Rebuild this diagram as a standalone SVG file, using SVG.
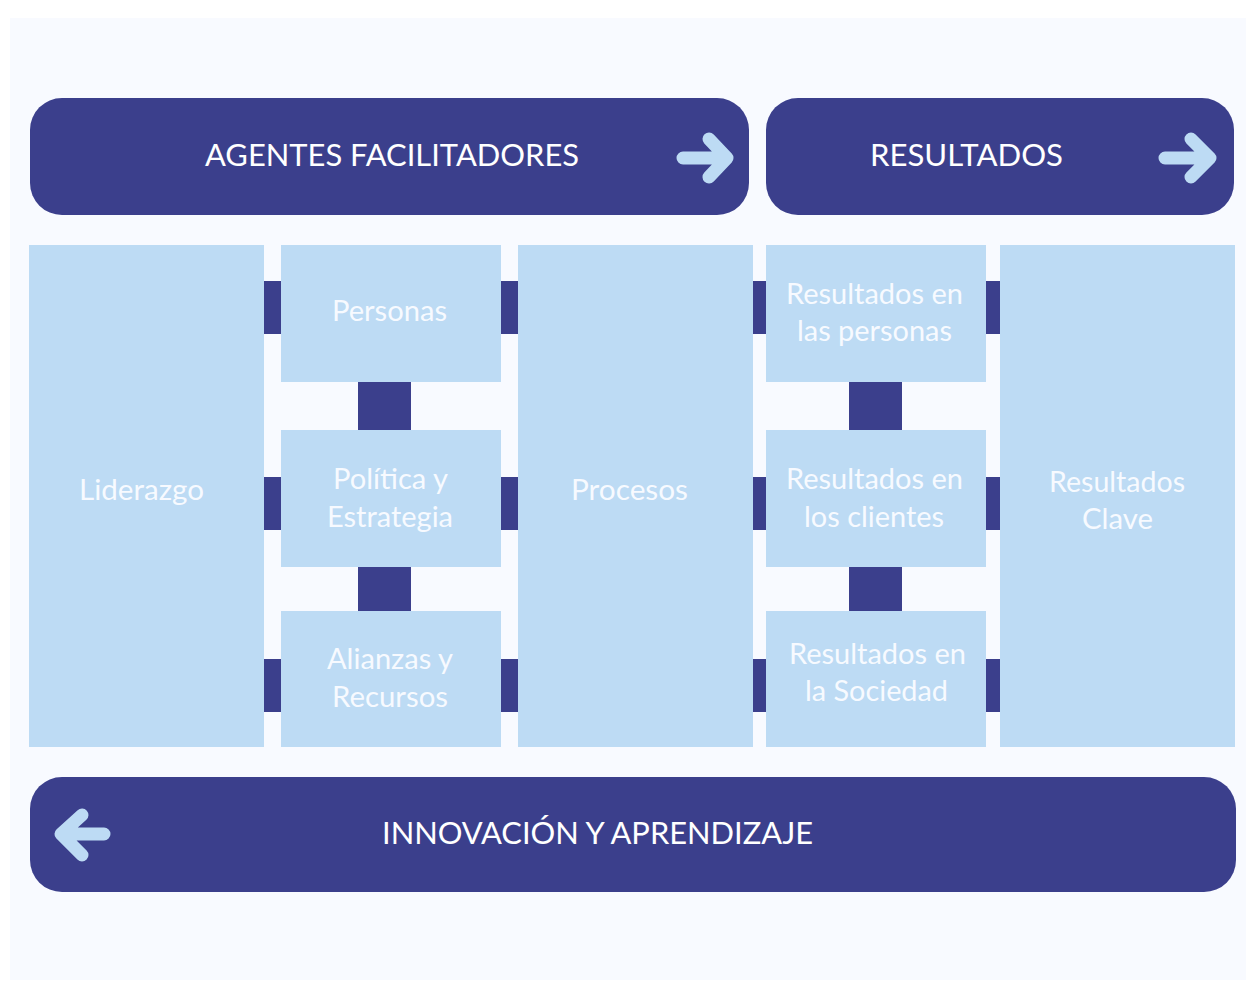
<svg xmlns="http://www.w3.org/2000/svg" width="1256" height="983" viewBox="0 0 1256 983">
<style>
.bar{fill:#3b3f8c}
.box{fill:#bddbf4}
.link{fill:#3b3f8c}
.arrow{fill:none;stroke:#bddbf4;stroke-width:13;stroke-linecap:round;stroke-linejoin:round}
.ht{font-family:Lato,"Liberation Sans",sans-serif;font-size:30px;fill:#ffffff;text-anchor:middle}
.bt{font-family:Lato,"Liberation Sans",sans-serif;font-size:29px;fill:#f7faff;text-anchor:middle}
</style>
<rect x="0" y="0" width="1256" height="983" fill="#ffffff"/>
<rect x="10" y="18" width="1236" height="962" fill="#f8faff"/>

<g id="connectors">
<rect class="link" x="264" y="281" width="17" height="53"/>
<rect class="link" x="264" y="477" width="17" height="53"/>
<rect class="link" x="264" y="659" width="17" height="53"/>
<rect class="link" x="501" y="281" width="17" height="53"/>
<rect class="link" x="501" y="477" width="17" height="53"/>
<rect class="link" x="501" y="659" width="17" height="53"/>
<rect class="link" x="358" y="382" width="53" height="48"/>
<rect class="link" x="358" y="567" width="53" height="44"/>
<rect class="link" x="753" y="281" width="13" height="53"/>
<rect class="link" x="753" y="477" width="13" height="53"/>
<rect class="link" x="753" y="659" width="13" height="53"/>
<rect class="link" x="986" y="281" width="14" height="53"/>
<rect class="link" x="986" y="477" width="14" height="53"/>
<rect class="link" x="986" y="659" width="14" height="53"/>
<rect class="link" x="849" y="382" width="53" height="48"/>
<rect class="link" x="849" y="567" width="53" height="44"/>
</g>

<g id="agentes">
<rect class="bar" x="30" y="98" width="719" height="117" rx="32" ry="32"/>
<text class="ht" x="392" y="166" textLength="374" lengthAdjust="spacingAndGlyphs">AGENTES FACILITADORES</text>
<path class="arrow" d="M683,158 H726 M709,139 L727,158 L709,177"/>
</g>

<g id="resultados">
<rect class="bar" x="766" y="98" width="468" height="117" rx="32" ry="32"/>
<text class="ht" x="966.5" y="166" textLength="193" lengthAdjust="spacingAndGlyphs">RESULTADOS</text>
<path class="arrow" d="M1165,158 H1208 M1191,139 L1210,158 L1191,177"/>
</g>

<g id="innovacion">
<rect class="bar" x="30" y="777" width="1206" height="115" rx="32" ry="32"/>
<text class="ht" x="597.5" y="844" textLength="431" lengthAdjust="spacingAndGlyphs">INNOVACIÓN Y APRENDIZAJE</text>
<path class="arrow" d="M104,834 H62 M82,815 L61,834 L82,855"/>
</g>

<g id="liderazgo">
<rect class="box" x="29" y="245" width="235" height="502"/>
<text class="bt" x="141.5" y="500" textLength="125" lengthAdjust="spacingAndGlyphs">Liderazgo</text>
</g>

<g id="personas">
<rect class="box" x="281" y="245" width="220" height="137"/>
<text class="bt" x="389.5" y="321" textLength="115" lengthAdjust="spacingAndGlyphs">Personas</text>
</g>

<g id="politica">
<rect class="box" x="281" y="430" width="220" height="137"/>
<text class="bt" x="390.5" y="489" textLength="115" lengthAdjust="spacingAndGlyphs">Política y</text>
<text class="bt" x="390" y="527" textLength="126" lengthAdjust="spacingAndGlyphs">Estrategia</text>
</g>

<g id="alianzas">
<rect class="box" x="281" y="611" width="220" height="136"/>
<text class="bt" x="390" y="669" textLength="126" lengthAdjust="spacingAndGlyphs">Alianzas y</text>
<text class="bt" x="390" y="707" textLength="116" lengthAdjust="spacingAndGlyphs">Recursos</text>
</g>

<g id="procesos">
<rect class="box" x="518" y="245" width="235" height="502"/>
<text class="bt" x="629.5" y="500" textLength="117" lengthAdjust="spacingAndGlyphs">Procesos</text>
</g>

<g id="res-personas">
<rect class="box" x="766" y="245" width="220" height="137"/>
<text class="bt" x="874.5" y="304" textLength="177" lengthAdjust="spacingAndGlyphs">Resultados en</text>
<text class="bt" x="874.5" y="341" textLength="155" lengthAdjust="spacingAndGlyphs">las personas</text>
</g>

<g id="res-clientes">
<rect class="box" x="766" y="430" width="220" height="137"/>
<text class="bt" x="874.5" y="489" textLength="177" lengthAdjust="spacingAndGlyphs">Resultados en</text>
<text class="bt" x="874" y="527" textLength="140" lengthAdjust="spacingAndGlyphs">los clientes</text>
</g>

<g id="res-sociedad">
<rect class="box" x="766" y="611" width="220" height="136"/>
<text class="bt" x="877.5" y="664" textLength="177" lengthAdjust="spacingAndGlyphs">Resultados en</text>
<text class="bt" x="876.5" y="701" textLength="143" lengthAdjust="spacingAndGlyphs">la Sociedad</text>
</g>

<g id="res-clave">
<rect class="box" x="1000" y="245" width="235" height="502"/>
<text class="bt" x="1117" y="492" textLength="136" lengthAdjust="spacingAndGlyphs">Resultados</text>
<text class="bt" x="1117.5" y="529" textLength="71" lengthAdjust="spacingAndGlyphs">Clave</text>
</g>
</svg>
